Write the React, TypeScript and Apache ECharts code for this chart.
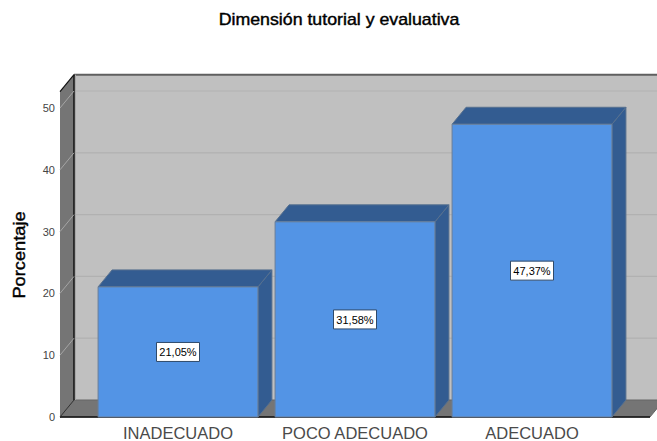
import React, { useEffect, useRef } from "react";
import * as echarts from "echarts";

const categories = ["INADECUADO", "POCO ADECUADO", "ADECUADO"];
const percentages = [21.05, 31.58, 47.37];
const yTicks = [0, 10, 20, 30, 40, 50];
const yMax = 52.64;
const chartTitle = "Dimensión tutorial y evaluativa";
const yAxisTitle = "Porcentaje";

const DX = 14;
const DY = -17;
const WALL_LEFT = 60;
const WALL_RIGHT = 650;

const fmt = (v: number) => v.toFixed(2).replace(".", ",") + "%";

const headingStyle = {
  fill: "#000",
  font: "16px 'Liberation Sans'",
  align: "center",
  verticalAlign: "middle",
  stroke: "#000",
  lineWidth: 0.4,
};

export default function App() {
  const ref = useRef<HTMLDivElement>(null);
  useEffect(() => {
    const chart = echarts.init(ref.current!, undefined, { renderer: "svg" });
    const option: any = {
      animation: false,
      backgroundColor: "#ffffff",
      graphic: [
        { type: "text", x: 339, y: 20, scaleX: 1.11, z: 10, style: { ...headingStyle, x: 0, y: 0, text: chartTitle } },
        {
          type: "text",
          x: 19,
          y: 255,
          rotation: Math.PI / 2,
          scaleX: 1.14,
          z: 10,
          style: { ...headingStyle, x: 0, y: 0, text: yAxisTitle },
        },
      ],
      grid: { left: 89.5, right: 36.5, top: 91.7, bottom: 24 },
      xAxis: {
        type: "category",
        data: categories,
        axisLine: { show: false },
        axisTick: { show: false },
        axisLabel: { interval: 0, fontFamily: "Liberation Sans", fontSize: 16.5, color: "#4a4a4a", margin: 7 },
      },
      yAxis: {
        type: "value",
        min: 0,
        max: yMax,
        interval: 10,
        offset: 29.5,
        axisLine: { show: true, lineStyle: { color: "#000", width: 1 } },
        axisTick: { show: false },
        splitLine: { show: false },
        axisLabel: {
          fontFamily: "Liberation Sans",
          fontSize: 11,
          color: "#444",
          margin: 5,
          formatter: (v: number) => (yTicks.includes(v) ? String(v) : ""),
        },
      },
      series: [
        {
          type: "custom",
          z: 1,
          silent: true,
          clip: false,
          data: [[0, 0]],
          renderItem: (_p: any, api: any) => {
            const y0 = api.coord([0, 0])[1];
            const yT = api.coord([0, yMax])[1];
            const L = WALL_LEFT, R = WALL_RIGHT;
            return {
              type: "group",
              children: [
                { type: "rect", shape: { x: L + DX, y: yT + DY, width: R - L, height: y0 - yT }, style: { fill: "#c0c0c0" } },
                { type: "polygon", shape: { points: [[L, y0], [L + DX, y0 + DY], [L + DX, yT + DY], [L, yT]] }, style: { fill: "#757575" } },
                { type: "polygon", shape: { points: [[L, y0], [R, y0], [R + DX, y0 + DY], [L + DX, y0 + DY]] }, style: { fill: "#757575", stroke: "#666", lineWidth: 1 } },
                { type: "line", shape: { x1: L + DX, y1: yT + DY, x2: R + DX, y2: yT + DY }, style: { stroke: "#5f5f5f", lineWidth: 2 } },
                { type: "line", shape: { x1: L + DX, y1: yT + DY, x2: L + DX, y2: y0 + DY }, style: { stroke: "#111", lineWidth: 1.5 } },
                { type: "line", shape: { x1: L + DX + 1.5, y1: yT + DY, x2: L + DX + 1.5, y2: y0 + DY }, style: { stroke: "#a8a8a8", lineWidth: 1 } },
                { type: "line", shape: { x1: L, y1: yT, x2: L + DX, y2: yT + DY }, style: { stroke: "#111", lineWidth: 1.2 } },
                { type: "line", shape: { x1: L, y1: y0, x2: R, y2: y0 }, style: { stroke: "#111", lineWidth: 1.5 } },
                { type: "line", shape: { x1: L, y1: y0, x2: L + DX, y2: y0 + DY }, style: { stroke: "#333", lineWidth: 1 } },
              ],
            };
          },
        },
        {
          type: "custom",
          z: 2,
          silent: true,
          clip: false,
          data: yTicks.slice(1).map((t) => [0, t]),
          renderItem: (_p: any, api: any) => {
            const y = api.coord([0, api.value(1)])[1];
            const L = WALL_LEFT, R = WALL_RIGHT;
            return {
              type: "group",
              children: [
                { type: "line", shape: { x1: L + DX + 2, y1: y + DY, x2: R + DX, y2: y + DY }, style: { stroke: "#b1b1b1", lineWidth: 1.2 } },
                { type: "line", shape: { x1: L, y1: y, x2: L + DX, y2: y + DY }, style: { stroke: "#a5a5a5", lineWidth: 1 } },
              ],
            };
          },
        },
        {
          type: "custom",
          z: 3,
          silent: true,
          clip: false,
          data: percentages.map((v, i) => [i, v]),
          renderItem: (_p: any, api: any) => {
            const i = api.value(0);
            const v = api.value(1);
            const top = api.coord([i, v]);
            const y0 = api.coord([i, 0])[1];
            const w = api.size([1, 0])[0] * 0.903;
            const x1 = top[0] - w / 2;
            const x2 = top[0] + w / 2;
            const yt = top[1];
            const ym = api.coord([i, v / 2])[1];
            const edge = { stroke: "#56708f", lineWidth: 1 };
            return {
              type: "group",
              children: [
                { type: "polygon", shape: { points: [[x2, y0], [x2 + DX, y0 + DY], [x2 + DX, yt + DY], [x2, yt]] }, style: { fill: "#335c91", ...edge } },
                { type: "polygon", shape: { points: [[x1, yt], [x1 + DX, yt + DY], [x2 + DX, yt + DY], [x2, yt]] }, style: { fill: "#335c91", ...edge } },
                { type: "rect", shape: { x: x1, y: yt, width: w, height: y0 - yt }, style: { fill: "#5394e5", stroke: "#6a7f99", lineWidth: 1 } },
                { type: "rect", shape: { x: top[0] - 21.5, y: ym - 9.5, width: 43, height: 19 }, style: { fill: "#ffffff", stroke: "#2f4a6a", lineWidth: 1 } },
                {
                  type: "text",
                  style: {
                    x: top[0],
                    y: ym + 0.5,
                    text: fmt(v),
                    fill: "#000",
                    font: "11px 'Liberation Sans'",
                    align: "center",
                    verticalAlign: "middle",
                  },
                },
              ],
            };
          },
        },
      ],
    };
    chart.setOption(option);
    return () => chart.dispose();
  }, []);
  return <div ref={ref} style={{ position: "absolute", left: 0, top: 0, width: 657, height: 441 }} />;
}
